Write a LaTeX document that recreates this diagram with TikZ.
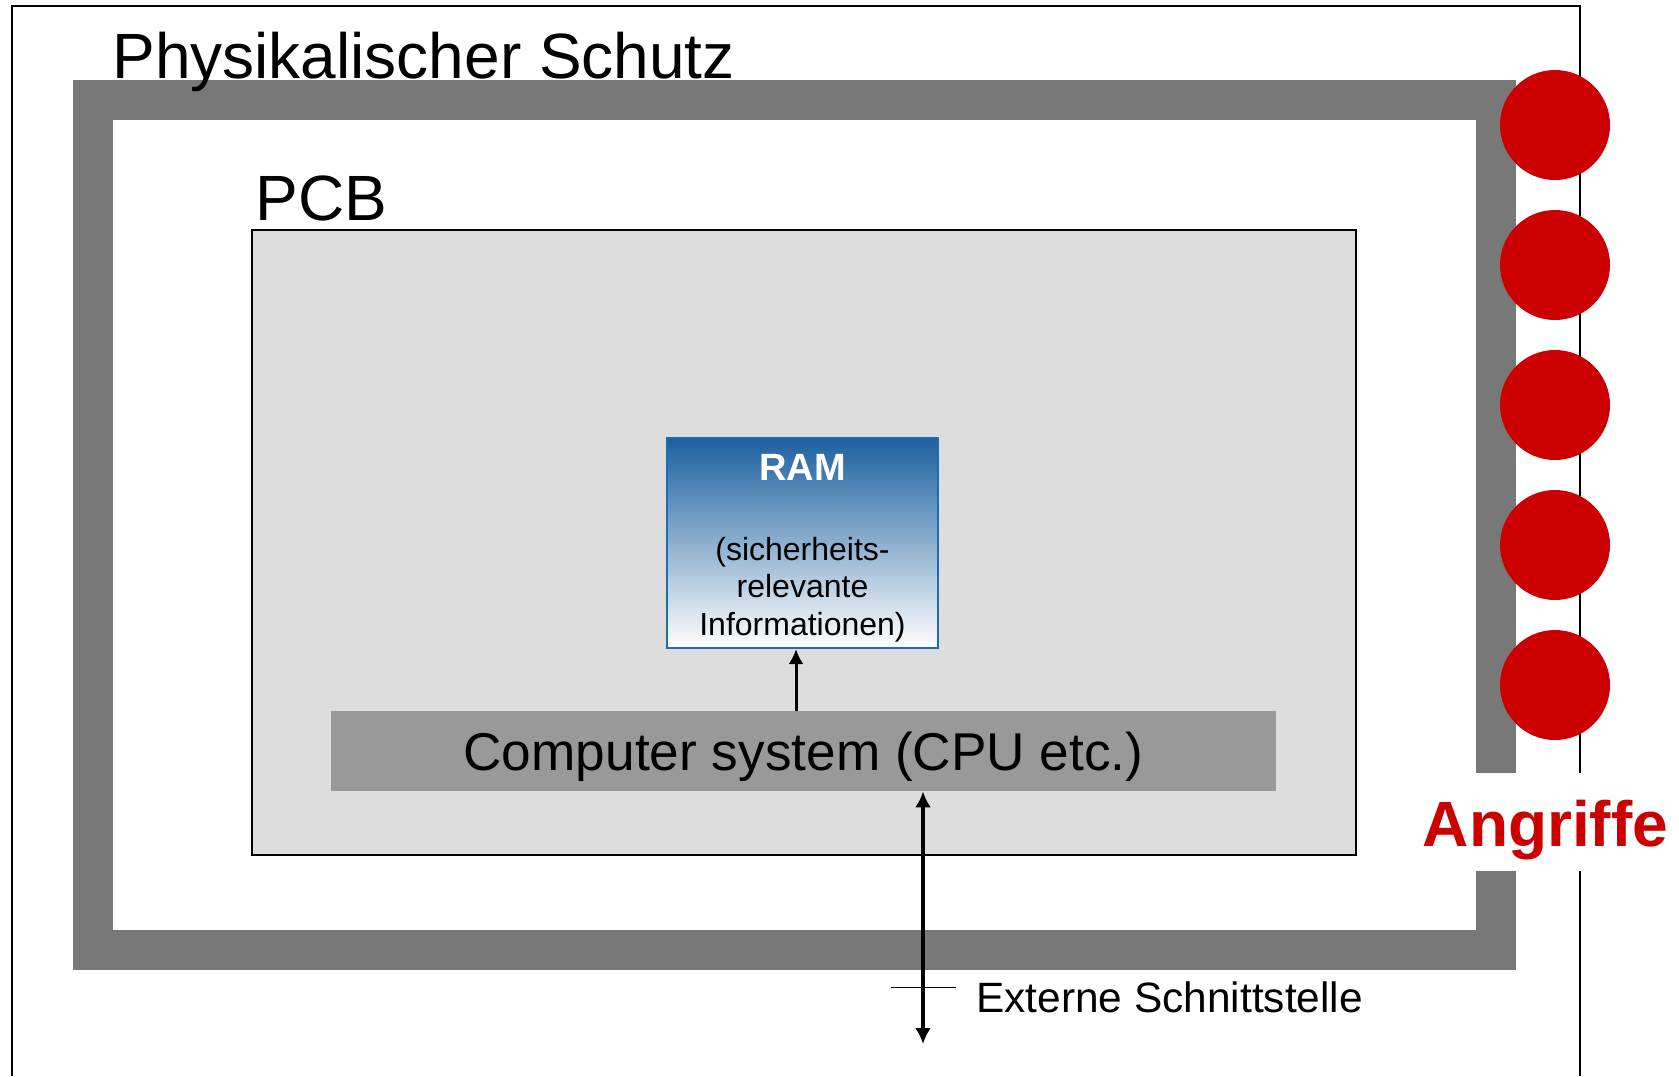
\documentclass[tikz,border=0pt]{standalone}
\usepackage{fontspec}
\setmainfont{Liberation Sans}
\usetikzlibrary{arrows.meta}
\definecolor{framegray}{RGB}{120,120,120}
\definecolor{pcbgray}{RGB}{221,221,221}
\definecolor{cpugray}{RGB}{153,153,153}
\definecolor{attackred}{RGB}{204,0,0}
\definecolor{ramblue}{RGB}{28,96,160}
\definecolor{ramedge}{RGB}{30,110,175}

\begin{document}
\begin{tikzpicture}[x=0.5pt, y=-0.5pt, >={Latex[length=8pt,width=8pt]},
    bigtext/.style={inner sep=0pt, anchor=base west, font=\fontsize{32}{38}\selectfont},
    cpubox/.style={fill=cpugray, minimum width=472.5pt, minimum height=40pt, inner sep=0pt, text depth=0pt, font=\fontsize{26.6}{32}\selectfont},
    rambox/.style={draw=ramedge, line width=1pt, top color=ramblue, bottom color=white, minimum width=135.5pt, minimum height=105pt, align=center, inner sep=0pt, font=\fontsize{16}{18.75}\selectfont},
    attack/.style={circle, fill=attackred, minimum size=55pt, inner sep=0pt}]
  \useasboundingbox (0,0) rectangle (1679,1076);
  % outer frame and physical protection
  \draw[line width=1pt] (12,1076) -- (12,6) -- (1580,6) -- (1580,1076);
  \draw[framegray, line width=20pt] (93,100) rectangle (1495.5,949.5);
  \node[bigtext] (schutz) at (112,78) {Physikalischer Schutz};
  % PCB
  \draw[fill=pcbgray, line width=1pt] (252,230) rectangle (1356,855);
  \node[bigtext] (pcb) at (255,220) {PCB};
  \node[cpubox] (cpu) at (803.5,751) {Computer system (CPU etc.)};
  \node[rambox] (ram) at (802.5,543) {};
  \node[align=center, inner sep=0pt, font=\fontsize{16}{18.75}\selectfont, yshift=-2.5pt] (ramtext) at (ram.center) {{\bfseries\color{white}\fontsize{19}{22}\selectfont RAM}\\[21pt](sicherheits-\\relevante\\Informationen)};
  \coordinate (up) at (796,0);
  \draw[->, line width=1.5pt, >={Latex[length=7.5pt,width=7.5pt]}] (cpu.north -| up) -- (ram.south -| up);
  % external interface
  \coordinate (ext) at (923,1044);
  \draw[<->, line width=2pt] (ext) -- (cpu.south -| ext);
  \draw[line width=0.5pt] (891,987) -- (956,987);
  \node[anchor=west, inner sep=0pt, font=\fontsize{21.2}{25}\selectfont] (extlabel) at (976,997) {Externe Schnittstelle};
  % attacks
  \foreach \i in {1,...,5}
    \node[attack] (hit\i) at (1555,{125+140*(\i-1)}) {};
  \node[fill=white, inner xsep=4pt, inner ysep=0pt, text height=36.5pt, text depth=12.5pt, anchor=base, text=attackred, font=\bfseries\fontsize{32}{38}\selectfont] (angriffe) at (1545.5,846) {Angriffe};
\end{tikzpicture}
\end{document}
